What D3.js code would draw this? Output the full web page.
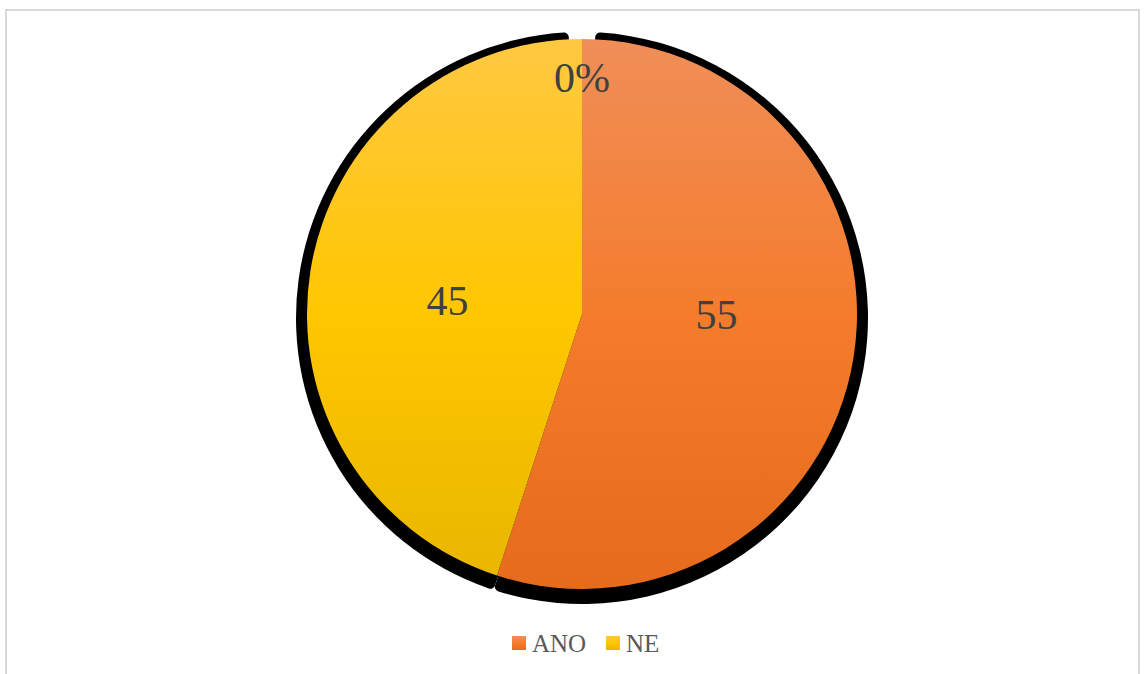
<!DOCTYPE html>
<html>
<head>
<meta charset="utf-8">
<script src="https://cdn.jsdelivr.net/npm/d3@7"></script>
<style>
  html, body { margin: 0; padding: 0; background: #fff; }
  svg { display: block; }
  text { font-family: "Liberation Serif", "Times New Roman", serif; }
</style>
</head>
<body>
<svg id="chart" width="1145" height="674"></svg>
<script>
// Pie data: answers "ANO" / "NE" plus an empty (0) slice that still carries a label
const categories = ["ANO", "NE", "zbytek"];
const values = [55, 45, 0];
const legendItems = ["ANO", "NE"];

// Vertical gradient stops for each slice (top, middle, bottom)
const sliceGradients = [
  ["#F08E58", "#F47C2C", "#E66B1C"],
  ["#FFC842", "#FFC700", "#E8B600"],
  ["#A5A5A5", "#A5A5A5", "#A5A5A5"]
];

const W = 1145, H = 674;
const cx = 582, cy = 314, R = 275;
const svg = d3.select("#chart");

// chart area frame
svg.append("rect")
  .attr("x", 6).attr("y", 10)
  .attr("width", 1133).attr("height", 680)
  .attr("fill", "#fff")
  .attr("stroke", "#D9D9D9").attr("stroke-width", 2);

const defs = svg.append("defs");
// gradients are defined in the pie group's own coordinates (centre at 0,0)
sliceGradients.forEach((stops, i) => {
  const g = defs.append("linearGradient")
    .attr("id", "grad" + i)
    .attr("gradientUnits", "userSpaceOnUse")
    .attr("x1", 0).attr("x2", 0)
    .attr("y1", -R).attr("y2", R);
  stops.forEach((c, k) => g.append("stop")
    .attr("offset", (k / (stops.length - 1) * 100) + "%")
    .attr("stop-color", c));
});

const pie = d3.pie().sort(null).value(d => d.value).startAngle(0).endAngle(2 * Math.PI);
const arcs = pie(categories.map((c, i) => ({ name: c, value: values[i], idx: i })));

const g = svg.append("g").attr("transform", `translate(${cx},${cy})`);

// black drop shadow behind each non-empty slice
const shadowGap = 0.047;
const shadowArc = d3.arc().innerRadius(0).outerRadius(R * 1.04).cornerRadius(5);
g.append("g").attr("transform", "translate(0,4)")
  .selectAll("path")
  .data(arcs.filter(a => a.value > 0))
  .join("path")
  .attr("fill", "#000")
  .attr("d", a => shadowArc({
    startAngle: a.startAngle === 0 ? a.startAngle + shadowGap : a.startAngle,
    endAngle: a.endAngle >= 2 * Math.PI - 1e-6 ? a.endAngle - shadowGap : a.endAngle
  }));

const arc = d3.arc().innerRadius(0).outerRadius(R);
g.append("g").selectAll("path")
  .data(arcs.filter(a => a.value > 0))
  .join("path")
  .attr("fill", a => `url(#grad${a.data.idx})`)
  .attr("d", arc);

// data labels
const labelTurn = -6 * Math.PI / 180;
const labelArc = d3.arc().innerRadius(R * 0.49).outerRadius(R * 0.49);
const edgeArc = d3.arc().innerRadius(R * 0.86).outerRadius(R * 0.86);
g.append("g").selectAll("text")
  .data(arcs)
  .join("text")
  .attr("transform", a => {
    const p = a.value === 0
      ? edgeArc.centroid(a)
      : labelArc.centroid({ startAngle: a.startAngle + labelTurn, endAngle: a.endAngle + labelTurn });
    return `translate(${p[0]},${p[1]})`;
  })
  .attr("text-anchor", "middle")
  .attr("dy", a => a.value === 0 ? "0.35em" : "0.2em")
  .attr("font-size", 42)
  .attr("fill", "#404040")
  .text(a => a.value === 0 ? "0%" : String(a.value));

// legend
const legend = svg.append("g").attr("transform", "translate(512,643)");
const itemX = [0, 94];
legendItems.forEach((name, i) => {
  const lg = defs.append("linearGradient").attr("id", "lg" + i)
    .attr("x1", 0).attr("x2", 0).attr("y1", 0).attr("y2", 1);
  sliceGradients[i].forEach((c, k) => lg.append("stop")
    .attr("offset", (k / 2 * 100) + "%").attr("stop-color", c));
  const it = legend.append("g").attr("transform", `translate(${itemX[i]},0)`);
  it.append("rect")
    .attr("x", 0).attr("y", -7).attr("width", 14).attr("height", 14)
    .attr("fill", `url(#lg${i})`);
  it.append("text")
    .attr("x", 20).attr("y", 9)
    .attr("font-size", 25)
    .attr("fill", "#595959")
    .text(name);
});
</script>
</body>
</html>
